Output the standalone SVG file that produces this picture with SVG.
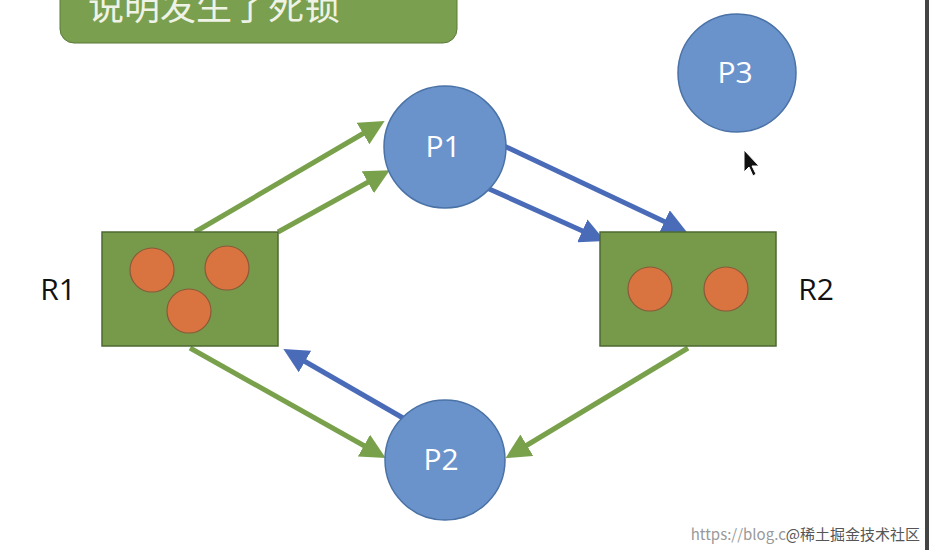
<svg xmlns="http://www.w3.org/2000/svg" width="929" height="550" viewBox="0 0 929 550">
<style>
.g{stroke:#79a14c;stroke-width:5;fill:none}
.b{stroke:#4a6cb8;stroke-width:5;fill:none}
.p{fill:#6a93cc;stroke:#4a72a6;stroke-width:1.5}
.r{fill:#76994a;stroke:#4f6a33;stroke-width:1.5}
.o{fill:#d9733f;stroke:#8a5a3a;stroke-width:1.2}
.t{font-family:"Open Sans","Noto Sans",sans-serif;font-size:30px;fill:#fff;text-anchor:middle}
.k{font-family:"Open Sans","Noto Sans",sans-serif;font-size:30px;fill:#111;text-anchor:middle}
</style>
<defs>
<marker id="ag" markerWidth="5" markerHeight="5" refX="3" refY="2.5" orient="auto"><path d="M0,0L5,2.5L0,5z" fill="#79a14c"/></marker>
<marker id="ab" markerWidth="5" markerHeight="5" refX="3" refY="2.5" orient="auto"><path d="M0,0L5,2.5L0,5z" fill="#4a6cb8"/></marker>
</defs>
<rect width="929" height="550" fill="#fff"/>
<rect x="925" y="0" width="4" height="550" fill="#444"/>
<g id="title"><rect x="60" y="-30" width="397" height="73" rx="14" fill="#7a9f4f" stroke="#5b7a39"/>
<text x="88" y="20" font-family="Noto Sans CJK SC,sans-serif" font-size="36" fill="#eef3e6">说明发生了死锁</text></g>
<g id="connectors">
<line class="g" x1="195" y1="232" x2="376" y2="126" marker-end="url(#ag)"/>
<line class="g" x1="278" y1="232" x2="381" y2="175" marker-end="url(#ag)"/>
<line class="b" x1="502" y1="145" x2="678" y2="228" marker-end="url(#ab)"/>
<line class="b" x1="487" y1="188" x2="596" y2="237" marker-end="url(#ab)"/>
<line class="g" x1="688" y1="348" x2="514" y2="453" marker-end="url(#ag)"/>
<line class="g" x1="190" y1="348" x2="377" y2="453" marker-end="url(#ag)"/>
<line class="b" x1="403" y1="418" x2="292" y2="354" marker-end="url(#ab)"/>
</g>
<g id="R1"><rect class="r" x="102" y="232" width="176" height="114"/>
<circle class="o" cx="152" cy="270" r="22"/><circle class="o" cx="227" cy="268" r="22"/><circle class="o" cx="189" cy="311" r="22"/>
<text class="k" x="58" y="300">R1</text></g>
<g id="R2"><rect class="r" x="600" y="232" width="176" height="114"/>
<circle class="o" cx="650" cy="289" r="22"/><circle class="o" cx="726" cy="289" r="22"/>
<text class="k" x="816" y="300">R2</text></g>
<g id="P1"><circle class="p" cx="445" cy="147" r="61"/><text class="t" x="443" y="157">P1</text></g>
<g id="P2"><circle class="p" cx="445" cy="460" r="60"/><text class="t" x="441" y="470">P2</text></g>
<g id="P3"><circle class="p" cx="737" cy="73" r="59"/><text class="t" x="735" y="83">P3</text></g>
<path d="M744,150L744,172L749,167L753,176L756,174L752,166L759,166z" fill="#111" stroke="#fff" stroke-width="1"/>
<text x="920" y="540" text-anchor="end" font-family="Noto Sans CJK SC,sans-serif" font-size="15" fill="#999">https://blog.c<tspan fill="#555">@稀土掘金技术社区</tspan></text>
</svg>
